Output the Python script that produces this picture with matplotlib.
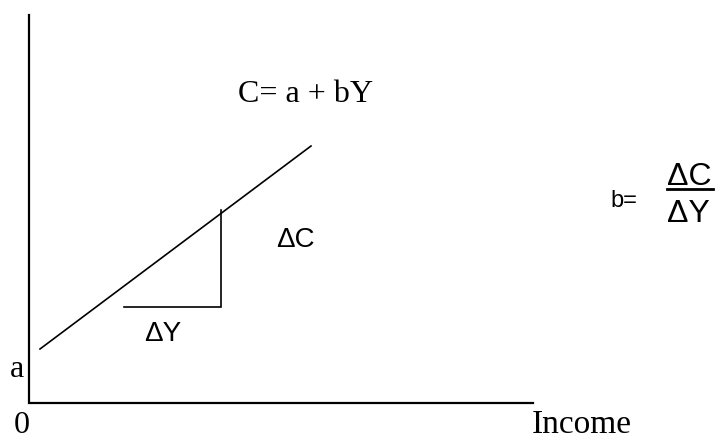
#%% Consumption function C = a + bY
import numpy as np
import matplotlib.pyplot as plt

# axes of the sketch (income, consumption)
axis_x = [0, 0, 504]
axis_y = [388, 0, 0]

# consumption line
Y_line = [11, 282]
C_line = [54, 257]

# slope triangle
tri_x = [95, 192, 192]
tri_y = [96, 96, 193]

serif = 'Liberation Serif'
sans = 'Liberation Sans'
#%%
fig = plt.figure(figsize=(7.15, 4.41), dpi=100)
ax = fig.add_axes([0, 0, 1, 1])
ax.set_xlim(-29, 686)
ax.set_ylim(-38, 403)
ax.axis('off')

ax.plot(axis_x, axis_y, '-', c='k', lw=1.6, solid_joinstyle='miter')
ax.plot(Y_line, C_line, '-', c='k', lw=1.2)
ax.plot(tri_x, tri_y, '-', c='k', lw=1.2, solid_joinstyle='miter')

ax.text(209, 301, 'C= a + bY', family=serif, fontsize=23, va='baseline')
ax.text(247, 156, 'ΔC', family=sans, fontsize=20, va='baseline')
ax.text(115, 62, 'ΔY', family=sans, fontsize=20, va='baseline')
ax.text(-19, 26, 'a', family=serif, fontsize=23, va='baseline')
# bottom labels: anchored on the bottom edge so nothing is cut
ax.text(-15, -37, '0', family=serif, fontsize=23, va='bottom')
ax.text(503, -37, 'Income', family=serif, fontsize=24, va='bottom')

# b = dC/dY
ax.text(581, 196, 'b=', family=sans, fontsize=17, va='baseline')
ax.text(638, 218, 'ΔC', family=sans, fontsize=23, va='baseline')
ax.plot([638, 684], [214, 214], '-', c='k', lw=2)
ax.text(638, 181, 'ΔY', family=sans, fontsize=23, va='baseline')

plt.savefig('out.png', dpi=100)
